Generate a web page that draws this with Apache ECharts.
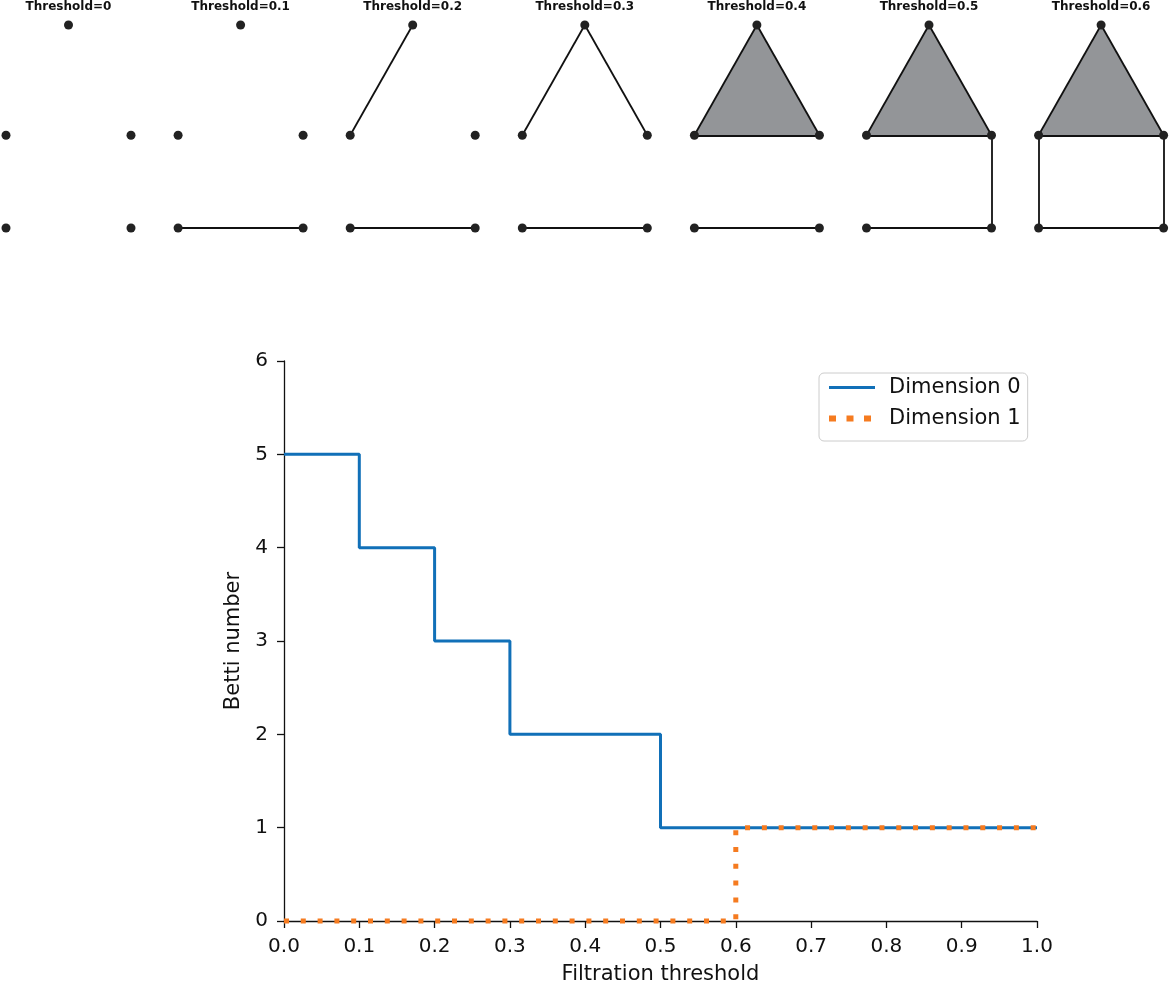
<!DOCTYPE html>
<html>
<head>
<meta charset="utf-8">
<script src="https://cdn.jsdelivr.net/npm/echarts@6/dist/echarts.min.js"></script>
<style>
html,body{margin:0;padding:0;background:#fff;}
#main{width:1170px;height:982px;}
</style>
</head>
<body>
<div id="main"></div>
<script>
// 小图：各阈值下的单纯复形
var thresholds = [0, 0.1, 0.2, 0.3, 0.4, 0.5, 0.6];
var nodeX = [0.5, 0, 1, 0, 1];          // 顶点, 中左, 中右, 下左, 下右
var nodeY = [0.88, 0, 0, -0.74, -0.74];
var edgeFrom = [3, 0, 0, 1, 2, 1];
var edgeTo   = [4, 1, 2, 2, 4, 3];
var edgeAt   = [0.1, 0.2, 0.3, 0.4, 0.5, 0.6];
var triangle = [0, 1, 2];
var triangleAt = 0.4;

// 大图：Betti 数
var xValues = [0, 0.1, 0.2, 0.3, 0.4, 0.5, 0.6, 0.7, 0.8, 0.9, 1.0];
var betti0  = [5, 4, 3, 2, 2, 1, 1, 1, 1, 1, 1];
var betti1  = [0, 0, 0, 0, 0, 0, 1, 1, 1, 1, 1];
var legendArr = ['Dimension 0', 'Dimension 1'];

var myChart = echarts.init(document.getElementById('main'));
var font = 'DejaVu Sans';
var blue = '#1170b8', orange = '#f57b20';

var grids = [], xAxes = [], yAxes = [], series = [];
for (var i = 0; i < thresholds.length; i++) {
	var t = thresholds[i];
	grids.push({left: 6 + 172.1 * i, width: 125, top: 25, height: 203, containLabel: false, outerBoundsMode: 'none'});
	xAxes.push({
		gridIndex: i, type: 'value', min: 0, max: 1, position: 'top',
		name: 'Threshold=' + t, nameLocation: 'middle', nameGap: 12,
		nameTextStyle: {fontFamily: font, fontWeight: 'bold', fontSize: 12, color: '#111'},
		axisLine: {show: false}, axisTick: {show: false}, axisLabel: {show: false}, splitLine: {show: false}
	});
	yAxes.push({
		gridIndex: i, type: 'value', min: -0.74, max: 0.88,
		axisLine: {show: false}, axisTick: {show: false}, axisLabel: {show: false}, splitLine: {show: false}
	});
	// 三角形填充
	if (t >= triangleAt) {
		series.push({
			type: 'custom', xAxisIndex: i, yAxisIndex: i, clip: false, silent: true, z: 1,
			data: [[nodeX[triangle[0]], nodeY[triangle[0]]]],
			renderItem: function (params, api) {
				var pts = triangle.map(function (k) { return api.coord([nodeX[k], nodeY[k]]); });
				return {type: 'polygon', shape: {points: pts}, style: {fill: '#939598', stroke: null}};
			}
		});
	}
	// 边
	var edges = [];
	for (var e = 0; e < edgeAt.length; e++) {
		if (edgeAt[e] <= t) {
			edges.push({coords: [[nodeX[edgeFrom[e]], nodeY[edgeFrom[e]]], [nodeX[edgeTo[e]], nodeY[edgeTo[e]]]]});
		}
	}
	if (edges.length) {
		series.push({
			type: 'lines', coordinateSystem: 'cartesian2d', xAxisIndex: i, yAxisIndex: i, clip: false, silent: true, z: 2,
			lineStyle: {color: '#111', width: 1.8, opacity: 1, curveness: 0},
			data: edges
		});
	}
	// 顶点
	var pts = [];
	for (var n = 0; n < nodeX.length; n++) pts.push([nodeX[n], nodeY[n]]);
	series.push({
		type: 'scatter', xAxisIndex: i, yAxisIndex: i, clip: false, silent: true, z: 3,
		symbolSize: 9, itemStyle: {color: '#222', opacity: 1}, data: pts
	});
}

// 主图
var mainIdx = thresholds.length;
grids.push({left: 284, width: 753, top: 361, height: 560, containLabel: false, outerBoundsMode: 'none'});
xAxes.push({
	gridIndex: mainIdx, type: 'value', min: 0, max: 1, interval: 0.1,
	name: 'Filtration threshold', nameLocation: 'middle', nameGap: 43,
	nameTextStyle: {fontFamily: font, fontSize: 21, color: '#111'},
	axisLine: {lineStyle: {color: '#111', width: 1.3}},
	axisTick: {length: 7, lineStyle: {color: '#111', width: 1.3}},
	axisLabel: {fontFamily: font, fontSize: 20, color: '#111', margin: 16,
		formatter: function (v) { return v.toFixed(1); }},
	splitLine: {show: false}
});
yAxes.push({
	gridIndex: mainIdx, type: 'value', min: 0, max: 6, interval: 1,
	name: 'Betti number', nameLocation: 'middle', nameGap: 31, nameRotate: 90,
	nameTextStyle: {fontFamily: font, fontSize: 21, color: '#111'},
	axisLine: {show: true, lineStyle: {color: '#111', width: 1.3}},
	axisTick: {show: true, length: 7, lineStyle: {color: '#111', width: 1.3}},
	axisLabel: {fontFamily: font, fontSize: 20, color: '#111', margin: 16},
	splitLine: {show: false}
});
series.push({
	name: legendArr[0], type: 'line', step: 'end', xAxisIndex: mainIdx, yAxisIndex: mainIdx,
	symbol: 'none', clip: false, z: 4,
	lineStyle: {color: blue, width: 3},
	itemStyle: {color: blue},
	data: xValues.map(function (x, k) { return [x, betti0[k]]; })
});
series.push({
	name: legendArr[1], type: 'line', step: 'end', xAxisIndex: mainIdx, yAxisIndex: mainIdx,
	symbol: 'none', clip: false, z: 5,
	lineStyle: {color: orange, width: 5, type: [5, 11.8], cap: 'butt'},
	itemStyle: {color: orange},
	data: xValues.map(function (x, k) { return [x, betti1[k]]; })
});

var option = {
	animation: false,
	backgroundColor: '#fff',
	grid: grids,
	xAxis: xAxes,
	yAxis: yAxes,
	legend: {
		data: [
			{name: legendArr[0], lineStyle: {color: blue, width: 3}},
			{name: legendArr[1], lineStyle: {color: orange, width: 6, type: [7, 10.5], cap: 'butt'}}
		],
		orient: 'vertical', left: 819, top: 373,
		padding: [4, 7, 12, 7], itemGap: 10, itemWidth: 46, itemHeight: 14,
		itemStyle: {opacity: 0},
		borderColor: '#ccc', borderWidth: 1, borderRadius: 5,
		textStyle: {fontFamily: font, fontSize: 21, color: '#111', padding: [0, 0, 0, 9]}
	},
	series: series
};
myChart.setOption(option);
</script>
</body>
</html>
